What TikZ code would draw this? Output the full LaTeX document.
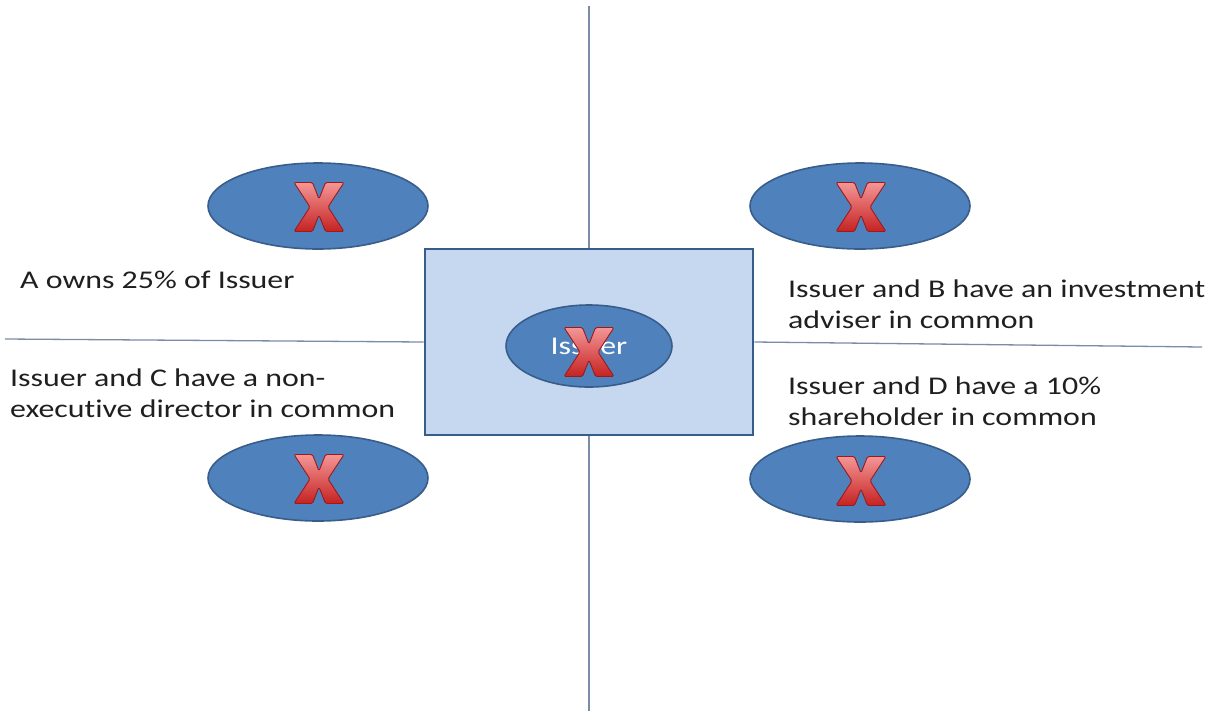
\documentclass[tikz,border=0pt]{standalone}
\usepackage{fontspec}
\setmainfont{Carlito}[FakeStretch=1.25, Ligatures=CommonOff]
\usetikzlibrary{shapes.geometric}

\definecolor{ovalfill}{HTML}{4F81BD}
\definecolor{ovaledge}{HTML}{385D8A}
\definecolor{boxfill}{HTML}{C6D8EF}
\definecolor{rulecol}{HTML}{7A8CA8}
\definecolor{xtop}{HTML}{F49696}
\definecolor{xmid}{HTML}{E64646}
\definecolor{xbot}{HTML}{C62222}
\definecolor{xedge}{HTML}{9E1A1A}

\tikzset{
  party/.style={ellipse, draw=ovaledge, fill=ovalfill, line width=1.6pt,
    minimum width=220pt, minimum height=86pt, inner sep=0pt},
  issuerbox/.style={rectangle, draw=ovaledge, fill=boxfill, line width=2.6pt,
    minimum width=328pt, minimum height=186pt, inner sep=0pt},
  rule/.style={draw=rulecol, line width=1.3pt},
  note/.style={anchor=base west, inner sep=0pt, text=black!88,
    font=\fontsize{25.5}{31}\selectfont},
  cross/.pic={
    \path[draw=xedge, line width=0.9pt, line join=round, rounded corners=1.5pt,
          top color=xtop, middle color=xmid, bottom color=xbot]
      (-25,-24.5) -- (-6.5,-24.5) -- (0,-8) -- (6.5,-24.5) -- (25,-24.5)
      -- (9,0) -- (25,24.5) -- (6.5,24.5) -- (0,8) -- (-6.5,24.5)
      -- (-25,24.5) -- (-9,0) -- cycle;
  }
}

\begin{document}
\begin{tikzpicture}[x=1pt, y=-1pt]
  \useasboundingbox (0,0) rectangle (1221,710);

  % quadrant rules
  \coordinate (vtop) at (589,6);
  \coordinate (vbot) at (589,712);
  \coordinate (hleft) at (5,339);
  \coordinate (hright) at (1202,347);

  \node[issuerbox] (box) at (589,342) {};
  \draw[rule] (vtop) -- (box.north);
  \draw[rule] (box.south) -- (vbot);
  \draw[rule] (hleft) -- (box.west);
  \draw[rule] (box.east) -- (hright);

  % central issuer
  \node[party, minimum width=166pt, minimum height=82pt, text=white,
        font=\fontsize{25.5}{31}\selectfont] (issuer) at (589,346) {Issuer};
  \pic at (589,352) {cross};

  % four related parties
  \node[party] (pa) at (318,206) {};
  \node[party] (pb) at (860,206) {};
  \node[party] (pc) at (318,478) {};
  \node[party] (pd) at (860,479) {};
  \pic at (319,207) {cross};
  \pic at (861,207) {cross};
  \pic at (319,479) {cross};
  \pic at (861,481) {cross};

  % captions
  \node[note] (ta) at (20,288) {A owns 25\% of Issuer};
  \node[note] (tb1) at (788,297) {Issuer and B have an investment};
  \node[note] (tb2) at (788,328) {adviser in common};
  \node[note] (tc1) at (10,386) {Issuer and C have a non-};
  \node[note] (tc2) at (10,417) {executive director in common};
  \node[note] (td1) at (788,394) {Issuer and D have a 10\%};
  \node[note] (td2) at (788,425) {shareholder in common};
\end{tikzpicture}
\end{document}
